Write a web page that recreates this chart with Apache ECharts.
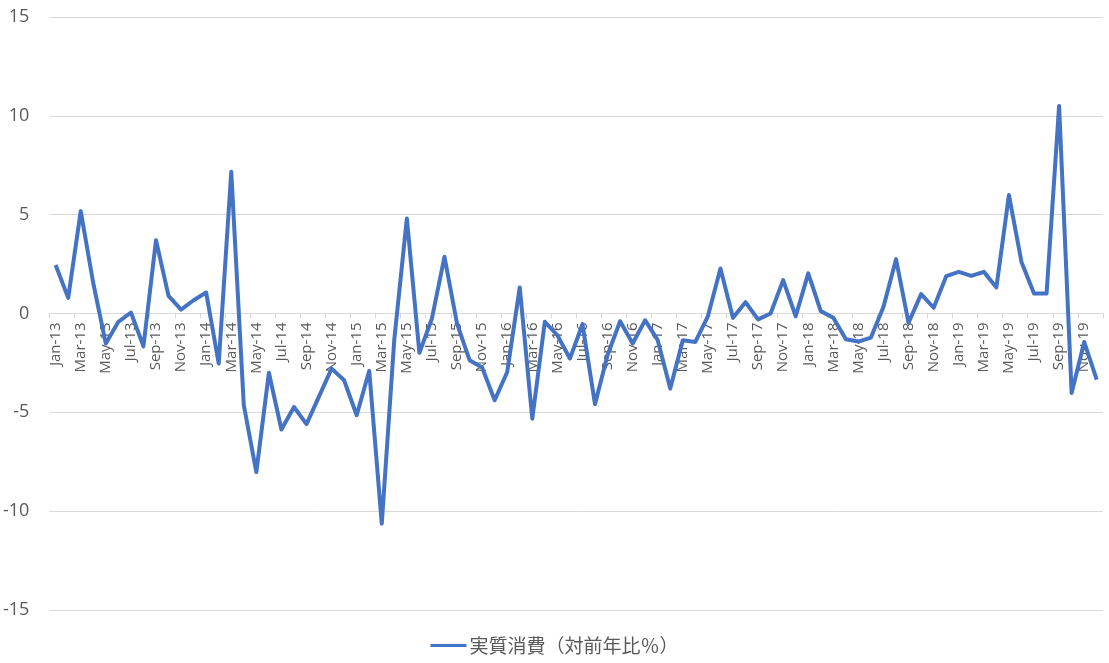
<!DOCTYPE html>
<html><head><meta charset="utf-8">
<script src="https://cdn.jsdelivr.net/npm/echarts@6/dist/echarts.min.js"></script>
<style>html,body{margin:0;padding:0;background:#fff}#c{width:1109px;height:663px}</style>
</head><body><div id="c"></div>
<script>
const months = ['Jan','Feb','Mar','Apr','May','Jun','Jul','Aug','Sep','Oct','Nov','Dec'];
const years = ['13','14','15','16','17','18','19'];
const categories = [];
years.forEach(y => months.forEach(m => categories.push(m + '-' + y)));
const seriesName = '実質消費（対前年比％）';
const values = [
  2.45, 0.79, 5.18, 1.53, -1.52, -0.42, 0.05, -1.66, 3.71, 0.89, 0.2, 0.67,
  1.06, -2.53, 7.17, -4.64, -8.02, -3.0, -5.87, -4.73, -5.6, -4.19, -2.79, -3.38,
  -5.15, -2.9, -10.63, -1.3, 4.81, -1.99, -0.25, 2.87, -0.51, -2.36, -2.73, -4.39,
  -2.96, 1.32, -5.32, -0.42, -1.1, -2.28, -0.54, -4.59, -2.1, -0.39, -1.52, -0.34,
  -1.35, -3.8, -1.35, -1.44, -0.14, 2.28, -0.22, 0.57, -0.3, 0.0, 1.69, -0.14,
  2.03, 0.12, -0.22, -1.3, -1.42, -1.22, 0.34, 2.75, -0.47, 0.98, 0.29, 1.89,
  2.11, 1.9, 2.11, 1.32, 5.99, 2.61, 1.01, 1.01, 10.5, -4.02, -1.44, -3.34
];
const yMin = -15, yMax = 15, yStep = 5;
const gridTop = 17, gridBottom = 53, H = 663;
const plotH = H - gridTop - gridBottom;
const zeroOffset = plotH * (0 - yMin) / (yMax - yMin);
const chart = echarts.init(document.getElementById('c'));
chart.setOption({
  animation: false,
  grid: { left: 48, right: 6, top: gridTop, bottom: gridBottom, containLabel: false },
  legend: {
    bottom: 3, left: 'center',
    itemWidth: 36, itemHeight: 3, itemGap: 3,
    textStyle: { fontSize: 19, color: '#595959', fontFamily: '"Noto Sans CJK JP", sans-serif', padding: [0,0,0,-2] },
    data: [{ name: seriesName, icon: 'rect' }]
  },
  xAxis: {
    type: 'category', data: categories, boundaryGap: true, position: 'bottom',
    offset: -zeroOffset,
    axisLine: { onZero: false, lineStyle: { color: '#d9d9d9', width: 1 } },
    axisTick: { show: true, interval: 1, length: 5, lineStyle: { color: '#d9d9d9' } },
    axisLabel: { interval: 1, rotate: 90, fontSize: 15, color: '#595959', margin: 9,
      fontFamily: '"Open Sans", sans-serif' },
    splitLine: { show: false }
  },
  yAxis: {
    type: 'value', min: yMin, max: yMax, interval: yStep,
    axisLine: { show: false }, axisTick: { show: false },
    axisLabel: { fontSize: 18, color: '#595959', margin: 20, fontFamily: '"Open Sans", sans-serif' },
    splitLine: { lineStyle: { color: '#d9d9d9', width: 1 } }
  },
  series: [{
    name: seriesName, type: 'line', data: values, symbol: 'none',
    lineStyle: { color: '#4472C4', width: 4, join: 'round' },
    itemStyle: { color: '#4472C4' }
  }]
});
</script></body></html>
